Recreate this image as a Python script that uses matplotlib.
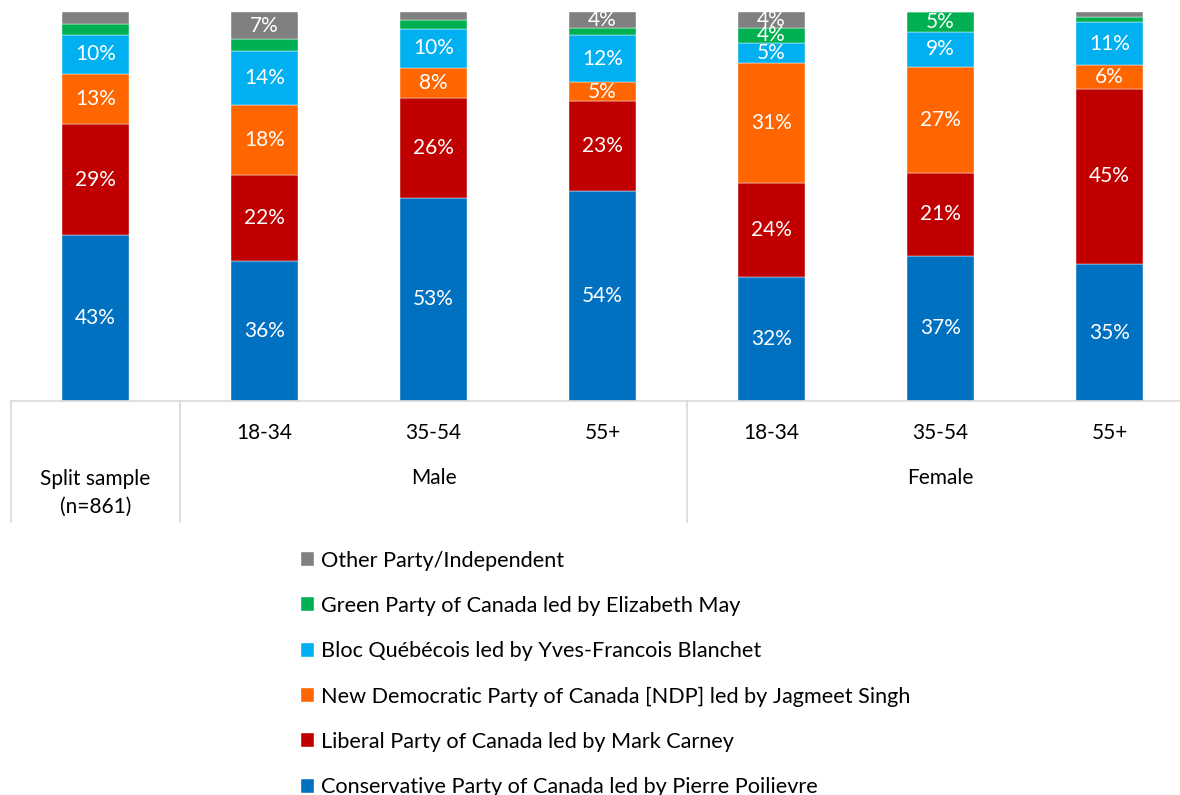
import matplotlib
matplotlib.use("Agg")
import matplotlib.pyplot as plt
import numpy as np

plt.rcParams["font.family"] = ["Lato", "DejaVu Sans"]

GROUPS = ["Split sample\n(n=861)", "18-34", "35-54", "55+", "18-34", "35-54", "55+"]
PARTIES = [
    "Conservative Party of Canada led by Pierre Poilievre",
    "Liberal Party of Canada led by Mark Carney",
    "New Democratic Party of Canada [NDP] led by Jagmeet Singh",
    "Bloc Québécois led by Yves-Francois Blanchet",
    "Green Party of Canada led by Elizabeth May",
    "Other Party/Independent",
]
CONSERVATIVE = [43, 36, 53, 54, 32, 37, 35]
LIBERAL = [29, 22, 26, 23, 24, 21, 45]
NDP = [13, 18, 8, 5, 31, 27, 6]
BLOC = [10, 14, 10, 12, 5, 9, 11]
GREEN = [3, 3, 2.5, 2, 4, 5, 1.3]
OTHER = [3, 7, 2, 4, 4, 0, 1.3]
COLORS = ["#0070C0", "#C00000", "#FF6600", "#00B0F0", "#00B050", "#808080"]

series = np.array([CONSERVATIVE, LIBERAL, NDP, BLOC, GREEN, OTHER], dtype=float)
shares = series / series.sum(axis=0) * 100  # 100% stacked

FS = 15
W, H = 1180, 795
fig = plt.figure(figsize=(W / 100, H / 100), dpi=100)
ax = fig.add_axes([11 / W, (H - 401) / H, (1194 - 11) / W, 389 / H])

x = np.arange(len(GROUPS))
bottom = np.zeros(len(GROUPS))
handles = []
for vals, raw, col, name in zip(shares, series, COLORS, PARTIES):
    bars = ax.bar(x, vals, 0.40, bottom=bottom, color=col, label=name,
                  edgecolor="white", linewidth=0.3)
    handles.append(bars)
    for xi, b, v, r in zip(x, bottom, vals, raw):
        if r >= 4:
            ax.text(xi, b + v / 2, f"{r:.0f}%", ha="center", va="center",
                    color="white", fontsize=FS)
    bottom += vals

ax.set_xlim(-0.5, 6.5)
ax.set_ylim(0, 100)
ax.axis("off")

# category table below the bars
lc = "#D9D9D9"
tr = ax.get_xaxis_transform()
ax.plot([-0.5, 6.5], [0, 0], color=lc, lw=1.2, transform=tr, clip_on=False)
for xv in [-0.5, 0.5, 3.5]:
    ax.plot([xv, xv], [0, -121 / 389], color=lc, lw=1.2, transform=tr, clip_on=False)
for xi, g in enumerate(GROUPS):
    if xi == 0:
        ax.text(xi, -(493 - 401) / 389, g, ha="center", va="center", transform=tr,
                fontsize=FS, linespacing=1.45)
    else:
        ax.text(xi, -(433 - 401) / 389, g, ha="center", va="center", transform=tr,
                fontsize=FS)
ax.text(2, -(478 - 401) / 389, "Male", ha="center", va="center", transform=tr, fontsize=FS)
ax.text(5, -(478 - 401) / 389, "Female", ha="center", va="center", transform=tr, fontsize=FS)

fig.legend(handles[::-1], PARTIES[::-1], loc="upper left",
           bbox_to_anchor=(290 / W, 1 - 540 / H), frameon=False,
           fontsize=15.6, handlelength=0.62, handleheight=0.62,
           handletextpad=0.3, labelspacing=1.165, borderpad=0)

fig.savefig("out.png", dpi=100)
